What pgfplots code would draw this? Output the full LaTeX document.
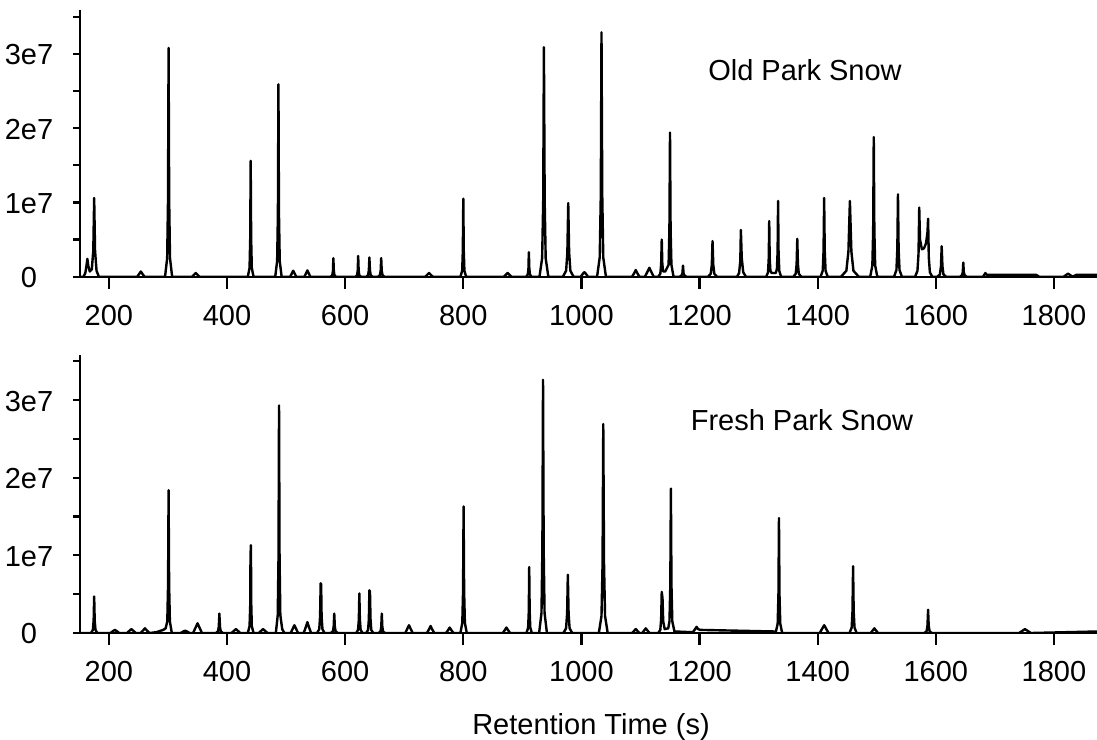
\documentclass[border=0pt]{standalone}
\usepackage{fontspec}
\setmainfont{Liberation Sans}
\usepackage{pgfplots}
\pgfplotsset{compat=1.18}
\pgfplotsset{
  chrom/.style={black, line width=2.4bp, line join=round, no marks},
  chromstyle/.style={
    scale only axis,
    width=1017bp,
    xmin=151, xmax=1873,
    ymin=0,
    axis x line*=bottom,
    axis y line*=left,
    axis line style={line width=2.2bp, black},
    tick style={line width=2.2bp, black},
    tick align=outside,
    major tick length=7bp,
    minor tick length=7bp,
    xtick style={/pgfplots/major tick length=12bp},
    xtick={200,400,600,800,1000,1200,1400,1600,1800},
    xticklabels={200,400,600,800,1000,1200,1400,1600,1800},
    ytick={0,1e7,2e7,3e7},
    yticklabels={0,1e7,2e7,3e7},
    minor ytick={0.5e7,1.5e7,2.5e7,3.5e7},
    scaled y ticks=false,
    ticklabel style={font=\fontsize{29bp}{34bp}\selectfont, inner sep=0pt},
    xticklabel style={anchor=north, yshift=-21bp},
    yticklabel style={anchor=center, xshift=-44bp, yshift=-1bp},
  }
}
\begin{document}
\begin{tikzpicture}
\useasboundingbox (0,0) rectangle (1097bp,-740bp);
% Old Park Snow
\begin{axis}[chromstyle, at={(80bp,-276.7bp)}, anchor=south west, height=266.7bp, ymax=3.59e7]
\addplot[chrom] coordinates {
(150,0)
(157,0) (160,0.05e7) (162,0.15e7) (163.5,0.24e7) (165,0.15e7) (167.5,0.07e7) (171,0.1e7) (173.5,0.35e7) (175,1.06e7) (176.5,0.35e7) (179,0.08e7) (183,0)
(247.8,0) (251.5,0.04e7) (254,0.07e7) (256.5,0.04e7) (260.3,0)
(295,0) (298.6,0.25e7) (300,1.02e7) (301,3.08e7) (302,1.02e7) (303.4,0.25e7) (307,0)
(340.8,0) (344.5,0.03e7) (347,0.05e7) (349.5,0.03e7) (353.3,0)
(435.2,0) (438.1,0.12e7) (439.2,0.51e7) (440,1.56e7) (440.8,0.51e7) (441.9,0.12e7) (444.8,0)
(481.6,0) (484.8,0.21e7) (486.1,0.85e7) (487,2.59e7) (487.9,0.85e7) (489.2,0.21e7) (492.4,0)
(507,0) (510,0.05e7) (512,0.08e7) (514,0.05e7) (517,0)
(531,0) (534,0.05e7) (536,0.085e7) (538,0.05e7) (541,0)
(575.5,0) (578.2,0.02e7) (579.3,0.08e7) (580,0.25e7) (580.8,0.08e7) (581.8,0.02e7) (584.5,0)
(617.5,0) (620.2,0.02e7) (621.3,0.09e7) (622,0.28e7) (622.8,0.09e7) (623.8,0.02e7) (626.5,0)
(635.6,0) (638.8,0.02e7) (640.1,0.09e7) (641,0.26e7) (641.9,0.09e7) (643.2,0.02e7) (646.4,0)
(655.6,0) (658.8,0.02e7) (660.1,0.08e7) (661,0.25e7) (661.9,0.08e7) (663.2,0.02e7) (666.4,0)
(735.8,0) (739.5,0.03e7) (742,0.05e7) (744.5,0.03e7) (748.3,0)
(795.2,0) (798.1,0.08e7) (799.2,0.35e7) (800,1.05e7) (800.8,0.35e7) (801.9,0.08e7) (804.8,0)
(868.8,0) (872.5,0.03e7) (875,0.05e7) (877.5,0.03e7) (881.3,0)
(906.5,0) (909.2,0.03e7) (910.3,0.11e7) (911,0.33e7) (911.8,0.11e7) (912.8,0.03e7) (915.5,0)
(929,0) (933.5,0.25e7) (935.3,1.02e7) (936.5,3.09e7) (937.8,1.02e7) (939.5,0.25e7) (944,0)
(968.7,0) (974.1,0.08e7) (976.2,0.33e7) (977.7,0.99e7) (979.2,0.33e7) (981.3,0.08e7) (986.7,0)
(998.8,0) (1002.5,0.04e7) (1005,0.06e7) (1007.5,0.04e7) (1011.3,0)
(1026.5,0) (1031,0.26e7) (1032.8,1.09e7) (1034,3.29e7) (1035.3,1.09e7) (1037,0.26e7) (1041.5,0)
(1085.8,0) (1089.5,0.05e7) (1092,0.09e7) (1094.5,0.05e7) (1098.3,0)
(1107.5,0) (1112,0.07e7) (1115,0.12e7) (1118,0.07e7) (1122.5,0)
(1130,0) (1133.6,0.04e7) (1135,0.17e7) (1136,0.5e7) (1137,0.17e7) (1138.4,0.07e7) (1142,0.07e7) (1147.6,0.16e7) (1149,0.64e7) (1150,1.94e7) (1151,0.64e7) (1152.4,0.16e7) (1156,0)
(1166.6,0) (1169.8,0.02e7) (1171.1,0.05e7) (1172,0.15e7) (1172.9,0.05e7) (1174.2,0.02e7) (1177.4,0)
(1214.5,0) (1219,0.04e7) (1220.8,0.16e7) (1222,0.48e7) (1223.3,0.16e7) (1225,0.04e7) (1229.5,0)
(1263.5,0) (1267,0.05e7) (1269,0.21e7) (1270,0.63e7) (1271.5,0.25e7) (1274,0.06e7) (1278.5,0)
(1313,0) (1316,0.06e7) (1317.2,0.25e7) (1318,0.75e7) (1318.8,0.25e7) (1320,0.08e7) (1322,0.05e7) (1329,0.05e7) (1331,0.1e7) (1332.2,0.34e7) (1333,1.02e7) (1333.8,0.34e7) (1335,0.08e7) (1338,0)
(1358.9,0) (1362.9,0.04e7) (1364.4,0.17e7) (1365.5,0.51e7) (1366.6,0.17e7) (1368.1,0.04e7) (1372.1,0)
(1405,0) (1408.6,0.08e7) (1410,0.35e7) (1411,1.06e7) (1412,0.35e7) (1413.4,0.08e7) (1417,0)
(1439.6,0) (1448.6,0.08e7) (1452.1,0.34e7) (1454.6,1.02e7) (1457.1,0.34e7) (1460.6,0.08e7) (1469.6,0)
(1489,0) (1492.6,0.15e7) (1494,0.62e7) (1495,1.88e7) (1496,0.62e7) (1497.4,0.15e7) (1501,0)
(1529.4,0) (1533.4,0.09e7) (1534.9,0.37e7) (1536,1.11e7) (1537.1,0.37e7) (1538.6,0.09e7) (1542.6,0)
(1565,0) (1569,0.08e7) (1570.8,0.31e7) (1572,0.93e7) (1573.3,0.5e7) (1576.5,0.37e7) (1580,0.38e7) (1583.5,0.45e7) (1586,0.6e7) (1587,0.78e7) (1588.2,0.26e7) (1590,0.06e7) (1594,0)
(1602.5,0) (1607,0.03e7) (1608.8,0.14e7) (1610,0.41e7) (1611.3,0.14e7) (1613,0.03e7) (1617.5,0)
(1641.2,0) (1644.4,0.02e7) (1645.7,0.06e7) (1646.6,0.19e7) (1647.5,0.06e7) (1648.8,0.02e7) (1652,0)
(1680,0) (1682.5,0.03e7) (1684,0.05e7) (1685.5,0.03e7) (1688,0.025e7)
(1770,0.025e7) (1775,0)
(1816.5,0) (1821,0.025e7) (1824,0.04e7) (1827,0.025e7) (1831.5,0)
(1838,0.025e7) (1875,0.025e7)
};
\end{axis}
% Fresh Park Snow
\begin{axis}[chromstyle, at={(80bp,-633bp)}, anchor=south west, height=278bp, ymax=3.58e7]
\addplot[chrom] coordinates {
(150,0)
(169.6,0) (172.8,0.04e7) (174.1,0.16e7) (175,0.47e7) (175.9,0.16e7) (177.2,0.04e7) (180.4,0)
(202.5,0) (207,0.025e7) (210,0.04e7) (213,0.025e7) (217.5,0)
(230.5,0) (235,0.03e7) (238,0.05e7) (241,0.03e7) (245.5,0)
(253.5,0) (258,0.035e7) (261,0.06e7) (264,0.035e7) (268.5,0)
(280,0.01e7) (292,0.04e7)
(296,0.06e7) (298.8,0.15e7) (300.1,0.62e7) (301,1.84e7) (301.9,0.62e7) (303.2,0.15e7) (306.4,0)
(321.5,0) (326,0.02e7) (329,0.03e7) (332,0.02e7) (336.5,0)
(342.5,0) (347,0.075e7) (350,0.125e7) (353,0.075e7) (357.5,0)
(381,0) (384.6,0.02e7) (386,0.08e7) (387,0.25e7) (388,0.08e7) (389.4,0.02e7) (393,0)
(407.5,0) (412,0.03e7) (415,0.05e7) (418,0.03e7) (422.5,0)
(435.2,0) (438.1,0.09e7) (439.2,0.35e7) (439.7,1.0e7) (440.4,1.13e7) (441,0.37e7) (441.9,0.09e7) (444.8,0)
(453.5,0) (458,0.03e7) (461,0.05e7) (464,0.03e7) (468.5,0)
(482.6,0) (485.8,0.23e7) (487.1,0.97e7) (488,2.93e7) (488.9,0.97e7) (490.2,0.23e7) (493.4,0.05e7) (497,0)
(507.8,0) (511.5,0.06e7) (514,0.1e7) (516.5,0.06e7) (520.3,0)
(529.8,0) (533.5,0.08e7) (536,0.14e7) (538.5,0.08e7) (542.3,0)
(552.5,0) (556.1,0.05e7) (557.5,0.21e7) (558.5,0.64e7) (559.3,0.63e7) (560.1,0.21e7) (561.5,0.05e7) (565,0)
(575.5,0) (579.1,0.02e7) (580.5,0.08e7) (581.5,0.25e7) (582.5,0.08e7) (583.9,0.02e7) (587.5,0)
(618.6,0) (621.8,0.04e7) (623.1,0.17e7) (624,0.51e7) (624.9,0.17e7) (626.2,0.04e7) (629.4,0)
(635.6,0) (638.8,0.04e7) (640.1,0.18e7) (641,0.55e7) (642,0.53e7) (642.9,0.18e7) (644.2,0.04e7) (647.4,0)
(656.6,0) (659.8,0.02e7) (661.1,0.08e7) (662,0.25e7) (662.9,0.08e7) (664.2,0.02e7) (667.4,0)
(701.8,0) (705.5,0.06e7) (708,0.1e7) (710.5,0.06e7) (714.3,0)
(738.4,0) (742.1,0.05e7) (744.6,0.09e7) (747.1,0.05e7) (750.9,0)
(770.8,0) (774.5,0.04e7) (777,0.07e7) (779.5,0.04e7) (783.3,0)
(795.1,0) (798.3,0.13e7) (799.6,0.54e7) (800.5,1.63e7) (801.4,0.54e7) (802.7,0.13e7) (805.9,0)
(866.8,0) (870.5,0.04e7) (873,0.07e7) (875.5,0.04e7) (879.3,0)
(907.1,0) (909.8,0.07e7) (910.9,0.28e7) (911.6,0.85e7) (912.4,0.28e7) (913.4,0.07e7) (916.1,0)
(928.4,0) (932.4,0.26e7) (933.9,1.08e7) (935,3.26e7) (936.1,1.08e7) (937.6,0.26e7) (941.6,0)
(969.5,0) (974,0.06e7) (975.8,0.25e7) (977,0.75e7) (978.3,0.25e7) (980,0.06e7) (984.5,0)
(1029.5,0) (1034,0.22e7) (1035.8,0.89e7) (1037,2.69e7) (1038.3,0.89e7) (1040,0.22e7) (1044.5,0)
(1085.8,0) (1089.5,0.03e7) (1092,0.05e7) (1094.5,0.03e7) (1098.3,0)
(1102.8,0) (1106.5,0.035e7) (1109,0.06e7) (1111.5,0.035e7) (1115.3,0)
(1130,0) (1133.6,0.04e7) (1135,0.18e7) (1136,0.53e7) (1137.3,0.45e7) (1138.5,0.15e7) (1141,0.05e7) (1147,0.06e7) (1149.1,0.15e7) (1150.5,0.61e7) (1151.5,1.86e7) (1152.5,0.61e7) (1153.9,0.15e7) (1157.5,0.02e7)
(1188.8,0.01e7) (1192.5,0.05e7) (1195,0.08e7) (1197.5,0.05e7) (1201.3,0.04e7)
(1325,0.02e7)
(1329.1,0.01e7) (1332.3,0.12e7) (1333.6,0.49e7) (1334.5,1.48e7) (1335.4,0.49e7) (1336.7,0.12e7) (1339.9,0)
(1403.5,0) (1408,0.06e7) (1411,0.1e7) (1414,0.06e7) (1418.5,0)
(1454,0) (1457.6,0.07e7) (1459,0.28e7) (1460,0.86e7) (1461,0.28e7) (1462.4,0.07e7) (1466,0)
(1489.8,0) (1493.5,0.035e7) (1496,0.06e7) (1498.5,0.035e7) (1502.3,0)
(1581,0) (1584.6,0.025e7) (1586,0.1e7) (1587,0.3e7) (1588,0.1e7) (1589.4,0.025e7) (1593,0)
(1741,0) (1747,0.03e7) (1751,0.05e7) (1755,0.03e7) (1761,0)
(1875,0.02e7)
};
\end{axis}
\node[anchor=base, inner sep=0pt, font=\fontsize{29bp}{34bp}\selectfont] at (805bp,-80bp) {Old Park Snow};
\node[anchor=base, inner sep=0pt, font=\fontsize{29bp}{34bp}\selectfont] at (802bp,-430bp) {Fresh Park Snow};
\node[anchor=base, inner sep=0pt, font=\fontsize{29bp}{34bp}\selectfont] at (591bp,-734bp) {Retention Time (s)};
\end{tikzpicture}
\end{document}
